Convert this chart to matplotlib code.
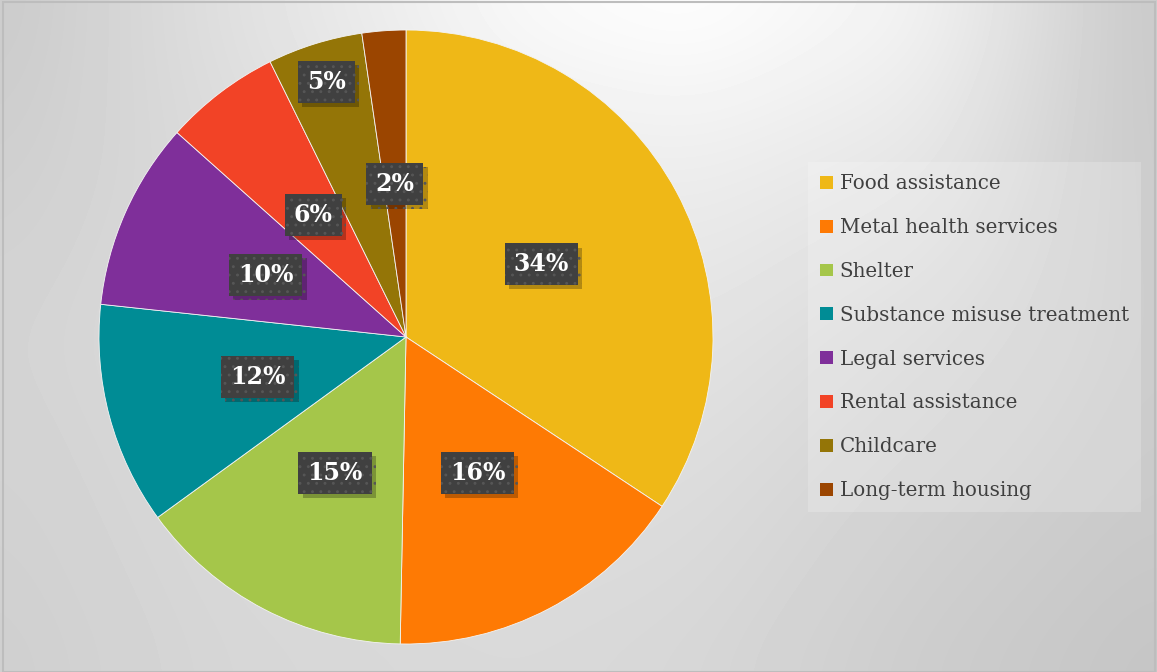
import numpy as np
import matplotlib
matplotlib.use("Agg")
import matplotlib.pyplot as plt
import matplotlib.patheffects as pe
from matplotlib.patches import Rectangle


############################################################
# Data
############################################################

categories = [
    "Food assistance",
    "Metal health services",
    "Shelter",
    "Substance misuse treatment",
    "Legal services",
    "Rental assistance",
    "Childcare",
    "Long-term housing",
]

shares = [34.3, 16.0, 14.7, 11.7, 9.9, 6.1, 5.0, 2.3]

colors = [
    "#EFB817",
    "#FE7A04",
    "#A5C64A",
    "#008C95",
    "#7F2F9A",
    "#F24326",
    "#947507",
    "#9B4500",
]

# grey levels of the backdrop, sampled on a coarse grid (top row first)
bg_cols = [0.0, 0.2, 0.45, 0.6, 0.8, 1.0]
bg_rows = [0.0, 0.25, 0.5, 0.75, 1.0]
bg_levels = [
    [0.79, 0.88, 0.98, 1.00, 0.95, 0.78],
    [0.81, 0.86, 0.92, 0.93, 0.90, 0.79],
    [0.83, 0.86, 0.89, 0.89, 0.85, 0.80],
    [0.82, 0.85, 0.87, 0.86, 0.82, 0.79],
    [0.81, 0.84, 0.85, 0.84, 0.80, 0.77],
]


def blur(a, n=21, passes=3):
    k = np.ones(n) / n
    for _ in range(passes):
        a = np.pad(a, n, mode="edge")
        a = np.apply_along_axis(lambda r: np.convolve(r, k, mode="same"), 1, a)
        a = np.apply_along_axis(lambda c: np.convolve(c, k, mode="same"), 0, a)
        a = a[n:-n, n:-n]
    return a


def main():

    plt.rcParams["hatch.linewidth"] = 0.9

    fig = plt.figure(figsize=(11.57, 6.72), dpi=100)

    ############################################################
    # Background gradient
    ############################################################

    bg_ax = fig.add_axes([0, 0, 1, 1])
    bg_ax.set_axis_off()

    xs = np.linspace(0, 1, 300)
    ys = np.linspace(0, 1, 180)
    levels = np.array(bg_levels)
    by_row = np.array([np.interp(xs, bg_cols, row) for row in levels])
    grid = np.array([np.interp(ys, bg_rows, by_row[:, i]) for i in range(len(xs))]).T
    grid = blur(grid)

    bg_ax.imshow(
        grid,
        cmap="gray",
        vmin=0,
        vmax=1,
        extent=[0, 1, 0, 1],
        aspect="auto",
        interpolation="bicubic",
    )
    bg_ax.set_xlim(0, 1)
    bg_ax.set_ylim(0, 1)

    fig.patches.append(
        Rectangle(
            (3 / 1157, 0),
            1 - 5 / 1157,
            1 - 2 / 672,
            transform=fig.transFigure,
            fill=False,
            edgecolor="#bdbdbd",
            linewidth=1.5,
        )
    )

    ############################################################
    # Pie
    ############################################################

    ax = fig.add_axes([99 / 1157, 28 / 672, 614 / 1157, 614 / 672])

    wedges, texts, autotexts = ax.pie(
        shares,
        colors=colors,
        startangle=90,
        counterclock=False,
        autopct="%1.0f%%",
        pctdistance=0.5,
        wedgeprops=dict(edgecolor="#f4f4f4", linewidth=0.6),
        textprops=dict(
            color="white",
            fontsize=17,
            fontweight="bold",
            family="DejaVu Serif",
        ),
    )

    ax.set_xlim(-1, 1)
    ax.set_ylim(-1, 1)

    # the small childcare label sits near the rim
    w = wedges[6]
    mid = np.deg2rad((w.theta1 + w.theta2) / 2)
    autotexts[6].set_position((0.87 * np.cos(mid), 0.87 * np.sin(mid)))

    for t in autotexts:
        t.set_bbox(
            dict(
                boxstyle="square,pad=0.38",
                facecolor="#404040",
                edgecolor="#565656",
                linewidth=0,
                hatch="..",
            )
        )
        t.get_bbox_patch().set_path_effects(
            [
                pe.SimplePatchShadow(offset=(3, -3), shadow_rgbFace="black", alpha=0.25),
                pe.Normal(),
            ]
        )

    ############################################################
    # Legend
    ############################################################

    leg = ax.legend(
        wedges,
        categories,
        loc="upper left",
        bbox_to_anchor=(808 / 1157, 1 - 162 / 672),
        bbox_transform=fig.transFigure,
        frameon=True,
        fancybox=False,
        facecolor="white",
        edgecolor="none",
        framealpha=0.2,
        handlelength=0.62,
        handleheight=0.62,
        handletextpad=0.35,
        labelspacing=1.25,
        borderpad=0.62,
        borderaxespad=0,
        prop=dict(family="DejaVu Serif", size=14.3),
    )

    for text in leg.get_texts():
        text.set_color("#404040")

    for handle in leg.legend_handles:
        handle.set_edgecolor("none")

    fig.savefig("out.png", dpi=100)
    plt.close(fig)


if __name__ == "__main__":
    main()
